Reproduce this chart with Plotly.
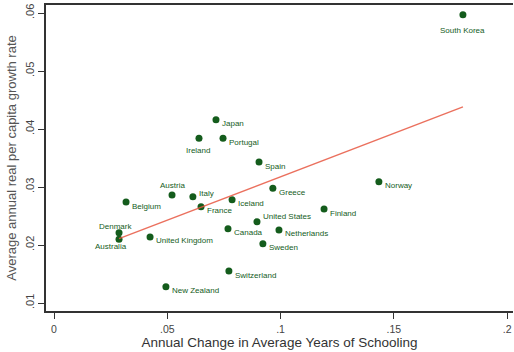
import plotly.graph_objects as go

# Countries and their values
countries = ["South Korea", "Japan", "Ireland", "Portugal", "Spain", "Austria", "Italy",
             "Belgium", "France", "Iceland", "Greece", "Norway", "Finland", "United States",
             "Canada", "Netherlands", "Sweden", "Switzerland", "New Zealand",
             "United Kingdom", "Denmark", "Australia"]
schooling_change = [0.1805, 0.0715, 0.0640, 0.0746, 0.0905, 0.0521, 0.0613,
                    0.0318, 0.0649, 0.0786, 0.0966, 0.1434, 0.1192, 0.0896,
                    0.0768, 0.0993, 0.0922, 0.0772, 0.0494,
                    0.0424, 0.0287, 0.0287]
growth_rate = [0.0597, 0.0416, 0.0384, 0.0384, 0.0343, 0.0286, 0.0283,
               0.0274, 0.0266, 0.0278, 0.0298, 0.0309, 0.0262, 0.0240,
               0.0228, 0.0226, 0.0202, 0.0155, 0.0128,
               0.0214, 0.0221, 0.0210]

# Fitted values of the linear regression at the ends of the sample
fit_x = [0.0287, 0.1805]
fit_y = [0.0211, 0.0438]

x_ticks = [0, 0.05, 0.1, 0.15, 0.2]
x_ticklabels = ["0", ".05", ".1", ".15", ".2"]
y_ticks = [0.01, 0.02, 0.03, 0.04, 0.05, 0.06]
y_ticklabels = [".01", ".02", ".03", ".04", ".05", ".06"]

GREEN = "rgb(20,92,28)"
FIT = "rgb(232,88,66)"
FONT = "Liberation Sans"

# label placement: (xanchor, yanchor, xshift, yshift)
label_pos = {
    "South Korea": ("center", "middle", 0, -16),
    "Ireland": ("center", "middle", -1, -12),
    "Austria": ("center", "middle", 0, 10),
    "Denmark": ("center", "middle", -4, 6),
    "Australia": ("center", "middle", -8, -7),
    "United States": ("left", "middle", 4, 5),
    "Italy": ("left", "middle", 4, 3),
}
default_pos = ("left", "middle", 4, -4)

fig = go.Figure()
fig.add_trace(go.Scatter(
    x=schooling_change, y=growth_rate, mode="markers",
    marker=dict(color=GREEN, size=7, line=dict(width=0)),
    hoverinfo="skip", showlegend=False,
))
fig.add_trace(go.Scatter(
    x=fit_x, y=fit_y, mode="lines",
    line=dict(color=FIT, width=1.4),
    opacity=0.85, hoverinfo="skip", showlegend=False,
))

for name, xv, yv in zip(countries, schooling_change, growth_rate):
    xa, ya, dx, dy = label_pos.get(name, default_pos)
    fig.add_annotation(
        x=xv, y=yv, text=name, showarrow=False,
        xanchor=xa, yanchor=ya, xshift=dx, yshift=dy,
        font=dict(family=FONT, size=8, color=GREEN),
    )

fig.update_layout(
    width=514, height=352,
    margin=dict(l=46, r=1, t=5, b=41),
    paper_bgcolor="white", plot_bgcolor="white",
    font=dict(family=FONT, color="#333333"),
)
fig.update_xaxes(
    range=[-0.00353, 0.2026],
    tickvals=x_ticks, ticktext=x_ticklabels,
    ticks="outside", ticklen=6, tickwidth=1.2, tickcolor="#333333",
    ticklabelstandoff=2,
    showline=True, linecolor="#333333", linewidth=1.6, mirror=True,
    showgrid=False, zeroline=False,
    tickfont=dict(family=FONT, size=10.5, color="#444444"),
    title=dict(text="Annual Change in Average Years of Schooling",
               font=dict(family=FONT, size=13.5, color="#333333"), standoff=3),
)
fig.update_yaxes(
    range=[0.00862, 0.06138],
    tickvals=y_ticks, ticktext=y_ticklabels, tickangle=-90,
    ticks="outside", ticklen=6, tickwidth=1.2, tickcolor="#333333",
    showline=True, linecolor="#333333", linewidth=1.6, mirror=False,
    showgrid=False, zeroline=False,
    tickfont=dict(family=FONT, size=11, color="#444444"),
    title=dict(text="Average annual real per capita growth rate",
               font=dict(family=FONT, size=13, color="#555555"), standoff=4),
)

fig.write_html("out.html")
